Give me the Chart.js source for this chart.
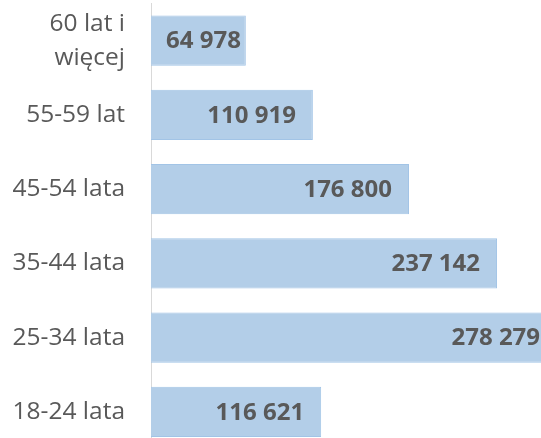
<!DOCTYPE html>
<html>
<head>
<meta charset="utf-8">
<script src="https://cdn.jsdelivr.net/npm/chart.js@4"></script>
<style>
  html, body { margin: 0; padding: 0; background: #fff; overflow: hidden; }
  canvas { display: block; }
</style>
</head>
<body>
<canvas id="chart" width="600" height="449"></canvas>
<script>
// ===== dane =====
const ageGroups = [['60 lat i', 'więcej'], '55-59 lat', '45-54 lata', '35-44 lata', '25-34 lata', '18-24 lata'];
const counts = [64978, 110919, 176800, 237142, 278279, 116621];
const axisMax = 307700;

const textColor = '#595959';
const fontFamily = '"Open Sans", "Noto Sans", sans-serif';

// liczby ze spacją jako separatorem tysięcy
function fmt(v) {
  return String(v).replace(/\B(?=(\d{3})+(?!\d))/g, ' ');
}

// etykiety wartości wewnątrz słupków (przy końcu)
const valueLabels = {
  id: 'valueLabels',
  afterDatasetsDraw(chart) {
    const ctx = chart.ctx;
    const meta = chart.getDatasetMeta(0);
    ctx.save();
    ctx.font = 'bold 24px ' + fontFamily;
    ctx.fillStyle = textColor;
    ctx.textBaseline = 'middle';
    ctx.textAlign = 'left';
    meta.data.forEach((bar, i) => {
      const txt = fmt(counts[i]);
      const w = ctx.measureText(txt).width;
      const left = Math.max(bar.base + 15, bar.x - 17 - w);
      ctx.fillText(txt, left, bar.y + 1);
    });
    ctx.restore();
  }
};

new Chart(document.getElementById('chart'), {
  type: 'bar',
  data: {
    labels: ageGroups,
    datasets: [{
      data: counts,
      backgroundColor: '#b3cee8',
      borderColor: '#a2c4e6',
      borderWidth: 1,
      barPercentage: 0.68,
      categoryPercentage: 1
    }]
  },
  options: {
    indexAxis: 'y',
    responsive: false,
    animation: false,
    layout: { padding: { top: 3.5, bottom: 0, left: 0, right: 0 } },
    plugins: {
      legend: { display: false },
      tooltip: { enabled: false }
    },
    scales: {
      x: {
        display: false,
        min: 0,
        max: axisMax
      },
      y: {
        grid: { display: false, drawTicks: false },
        border: { display: true, color: '#d9d9d9', width: 1 },
        ticks: {
          color: textColor,
          padding: 26,
          font: { family: fontFamily, size: 24.5, lineHeight: 1.38 }
        },
        // stała szerokość osi i bez dodatkowego marginesu na etykiety
        afterFit(scale) {
          scale.width = 151;
          scale.paddingTop = 0;
          scale.paddingBottom = 0;
        }
      }
    }
  },
  plugins: [valueLabels]
});
</script>
</body>
</html>
